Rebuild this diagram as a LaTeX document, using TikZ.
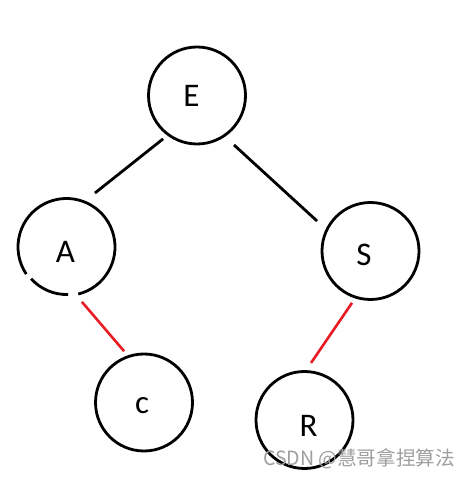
\documentclass[tikz,border=0pt]{standalone}
\usepackage{fontspec}
\setmainfont{Carlito}
\newfontfamily\cjkfont{Noto Sans CJK SC}
\usetikzlibrary{calc}
\begin{document}
\begin{tikzpicture}[x=1pt,y=1pt,
  vert/.style={circle,draw=black,line width=2.8pt,minimum size=97pt,inner sep=0pt},
  lbl/.style={inner sep=0pt,font=\fontsize{33}{33}\selectfont},
  blk/.style={draw=black,line width=2.8pt},
  redline/.style={draw={rgb,255:red,232;green,28;blue,36},line width=2.6pt}]
\useasboundingbox (0,0) rectangle (473,479);
\fill[white] (0,0) rectangle (473,479);
% vertices
\node[vert] (E) at (197,383.5) {};
\node[vert,draw=none] (A) at (66.5,232) {};
\node[vert] (S) at (370.5,228) {};
\node[vert] (c) at (144,76.5) {};
\node[vert] (R) at (304.5,59) {};
% hand-drawn circle of A with two small gaps
\draw[blk] ([shift={(284:48.5pt)}]A.center) arc[start angle=284,end angle=574,radius=48.5pt];
\draw[blk] ([shift={(222:47.5pt)}]A.center) arc[start angle=222,end angle=272,radius=47.5pt];
% labels
\node[lbl] (Elab) at (191.5,383) {E};
\node[lbl] (Alab) at (65.5,227) {A};
\node[lbl] (Slab) at (364,224) {S};
\node[lbl] (clab) at (142,73) {c};
\node[lbl] (Rlab) at (308.5,53) {R};
% connectors
\draw[blk] ($(E.center)+(232:55pt)$) -- ($(A.center)+(62.2:61pt)$);
\draw[blk] ($(E.center)+(306.8:61.8pt)$) -- ($(S.center)+(150.7:61.3pt)$);
\draw[redline] ($(A.center)+(285.7:57pt)$) -- ($(c.center)+(111.2:55pt)$);
\draw[redline] ($(S.center)+(250.4:55pt)$) -- ($(R.center)+(83.5:57.4pt)$);
% watermark
\node[inner sep=0pt,text=black!38,font=\cjkfont\fontsize{19.6}{19.6}\selectfont] (wm) at (359,20) {CSDN @慧哥拿捏算法};
\end{tikzpicture}
\end{document}
